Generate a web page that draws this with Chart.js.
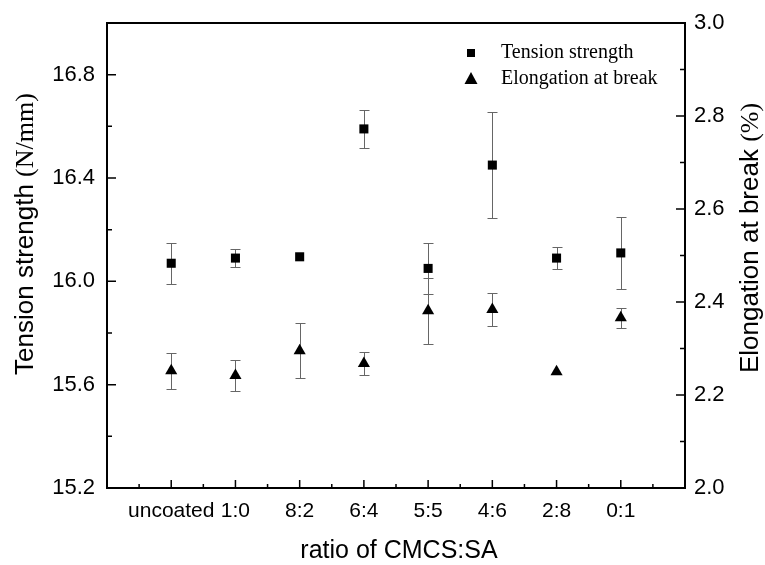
<!DOCTYPE html>
<html>
<head>
<meta charset="utf-8">
<script src="https://cdn.jsdelivr.net/npm/chart.js@4.4.1/dist/chart.umd.min.js"></script>
<style>
  html, body { margin: 0; padding: 0; background: #fff; }
  #wrap { width: 765px; height: 565px; }
</style>
</head>
<body>
<div id="wrap"><canvas id="mechChart"></canvas></div>
<script>
const categories = ['uncoated', '1:0', '8:2', '6:4', '5:5', '4:6', '2:8', '0:1'];
const tensionStrength = [16.07, 16.09, 16.095, 16.59, 16.05, 16.45, 16.09, 16.11];
const tensionErr = [0.08, 0.035, 0, 0.073, 0.1, 0.205, 0.043, 0.14];
const elongation = [2.252, 2.242, 2.295, 2.268, 2.381, 2.384, 2.25, 2.366];
const elongationErr = [0.039, 0.034, 0.059, 0.025, 0.071, 0.035, 0, 0.022];
const leftTicks = [15.2, 15.6, 16.0, 16.4, 16.8];
const rightTicks = [2.0, 2.2, 2.4, 2.6, 2.8, 3.0];

const SANS = "'Liberation Sans', Arial, sans-serif";
const SERIF = "'Liberation Serif', 'Times New Roman', serif";

// error bars, drawn through the scales of each dataset
const errorBars = {
  id: 'errorBars',
  beforeDatasetsDraw(chart) {
    const ctx = chart.ctx;
    const xs = chart.scales.x;
    ctx.save();
    ctx.strokeStyle = '#666';
    ctx.lineWidth = 1;
    chart.data.datasets.forEach(ds => {
      const ys = chart.scales[ds.yAxisID];
      ds.data.forEach((p, i) => {
        const e = ds.errors[i];
        if (!e) return;
        const x = Math.round(xs.getPixelForValue(p.x)) + 0.5;
        const yt = Math.round(ys.getPixelForValue(p.y + e)) + 0.5;
        const yb = Math.round(ys.getPixelForValue(p.y - e)) + 0.5;
        ctx.beginPath();
        ctx.moveTo(x, yt); ctx.lineTo(x, yb);
        ctx.moveTo(x - 5, yt); ctx.lineTo(x + 5, yt);
        ctx.moveTo(x - 5, yb); ctx.lineTo(x + 5, yb);
        ctx.stroke();
      });
    });
    ctx.restore();
  }
};

// frame, inward ticks, legend and axis titles
const frame = {
  id: 'frame',
  afterDraw(chart) {
    const ctx = chart.ctx;
    const a = chart.chartArea;
    const xs = chart.scales.x, yl = chart.scales.y, yr = chart.scales.y1;
    ctx.save();
    ctx.strokeStyle = '#000';
    ctx.lineWidth = 2;
    ctx.strokeRect(a.left, a.top, a.right - a.left, a.bottom - a.top);

    ctx.lineWidth = 1.5;
    ctx.beginPath();
    for (let v = 0.5; v < 9; v += 0.5) {
      const x = xs.getPixelForValue(v);
      const len = Number.isInteger(v) ? 8 : 4;
      ctx.moveTo(x, a.bottom); ctx.lineTo(x, a.bottom - len);
    }
    for (let k = 1; k < 9; k++) {
      const y = yl.getPixelForValue(15.2 + k * 0.2);
      const len = k % 2 === 0 ? 9 : 5;
      ctx.moveTo(a.left, y); ctx.lineTo(a.left + len, y);
    }
    for (let k = 1; k < 10; k++) {
      const y = yr.getPixelForValue(2 + k * 0.1);
      const len = k % 2 === 0 ? 9 : 5;
      ctx.moveTo(a.right, y); ctx.lineTo(a.right - len, y);
    }
    ctx.stroke();

    // legend
    ctx.fillStyle = '#000';
    const lx = a.right - 214;
    const ly = a.top + 30;
    ctx.fillRect(lx - 4, ly - 4, 8, 8);
    ctx.beginPath();
    ctx.moveTo(lx, ly + 26 - 7);
    ctx.lineTo(lx + 6.5, ly + 26 + 5);
    ctx.lineTo(lx - 6.5, ly + 26 + 5);
    ctx.closePath();
    ctx.fill();
    ctx.font = '20px ' + SERIF;
    ctx.textBaseline = 'middle';
    ctx.textAlign = 'left';
    chart.data.datasets.forEach((ds, i) => {
      ctx.fillText(ds.label, lx + 30, ly + i * 26);
    });

    // axis titles with mixed fonts
    const mixed = (parts, cx, cy, rot) => {
      ctx.save();
      ctx.translate(cx, cy);
      ctx.rotate(rot);
      let total = 0;
      parts.forEach(p => { ctx.font = p[1]; total += ctx.measureText(p[0]).width; });
      let x = -total / 2;
      parts.forEach(p => {
        ctx.font = p[1];
        ctx.fillText(p[0], x, 0);
        x += ctx.measureText(p[0]).width;
      });
      ctx.restore();
    };
    ctx.textBaseline = 'middle';
    mixed([['Tension strength ', '26px ' + SANS], ['(N/mm)', '26px ' + SERIF]], 26, 234, -Math.PI / 2);
    mixed([['Elongation at break ', '26px ' + SANS], ['(%)', '26px ' + SERIF]], 751, 238, -Math.PI / 2);
    mixed([['ratio of CMCS:SA', '25px ' + SANS]], (a.left + a.right) / 2 + 3, 551, 0);
    ctx.restore();
  }
};

const ctx = document.getElementById('mechChart').getContext('2d');
const mechChart = new Chart(ctx, {
  type: 'scatter',
  data: {
    datasets: [{
      label: 'Tension strength',
      data: tensionStrength.map((v, i) => ({ x: i + 1, y: v })),
      errors: tensionErr,
      yAxisID: 'y',
      pointStyle: 'rect',
      pointRadius: 6.4,
      pointHoverRadius: 6.4,
      backgroundColor: '#000',
      borderColor: '#000',
      borderWidth: 0
    }, {
      label: 'Elongation at break',
      data: elongation.map((v, i) => ({ x: i + 1, y: v })),
      errors: elongationErr,
      yAxisID: 'y1',
      pointStyle: 'triangle',
      pointRadius: 7,
      pointHoverRadius: 7,
      backgroundColor: '#000',
      borderColor: '#000',
      borderWidth: 0
    }]
  },
  options: {
    responsive: true,
    maintainAspectRatio: false,
    animation: false,
    layout: { padding: { top: 23, left: 0, right: 0, bottom: 0 } },
    plugins: { legend: { display: false }, tooltip: { enabled: false } },
    scales: {
      x: {
        type: 'linear',
        min: 0,
        max: 9,
        afterBuildTicks: s => { s.ticks = categories.map((c, i) => ({ value: i + 1 })); },
        afterFit: s => { s.height = 77; },
        grid: { display: false },
        border: { display: false },
        ticks: {
          autoSkip: false,
          maxRotation: 0,
          padding: 3,
          color: '#000',
          font: { family: SANS, size: 21 },
          callback: v => categories[Math.round(v) - 1] || ''
        }
      },
      y: {
        position: 'left',
        min: 15.2,
        max: 17.0,
        afterBuildTicks: s => { s.ticks = leftTicks.map(v => ({ value: v })); },
        afterFit: s => { s.width = 107; },
        grid: { display: false },
        border: { display: false },
        ticks: {
          autoSkip: false,
          padding: 4,
          color: '#000',
          font: { family: SANS, size: 22 },
          callback: v => Number(v).toFixed(1)
        }
      },
      y1: {
        position: 'right',
        min: 2.0,
        max: 3.0,
        afterBuildTicks: s => { s.ticks = rightTicks.map(v => ({ value: v })); },
        afterFit: s => { s.width = 80; },
        grid: { display: false },
        border: { display: false },
        ticks: {
          autoSkip: false,
          padding: 1,
          color: '#000',
          font: { family: SANS, size: 22 },
          callback: v => Number(v).toFixed(1)
        }
      }
    }
  },
  plugins: [errorBars, frame]
});
</script>
</body>
</html>
